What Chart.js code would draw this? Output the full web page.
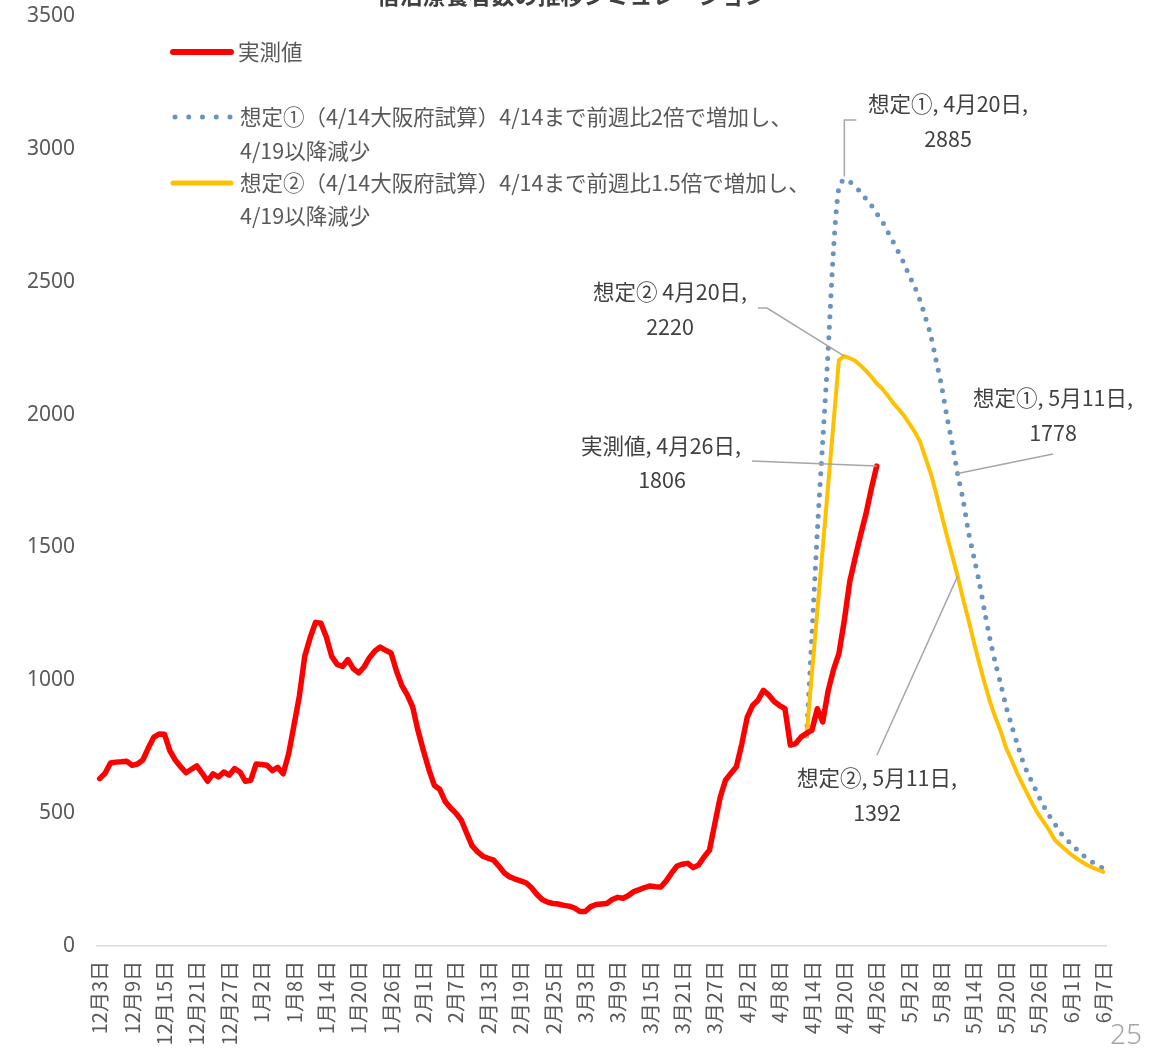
<!DOCTYPE html>
<html>
<head>
<meta charset="utf-8">
<script src="https://cdn.jsdelivr.net/npm/chart.js@4/dist/chart.umd.min.js"></script>
<style>
  html, body { margin: 0; padding: 0; background: #ffffff; }
  canvas { display: block; }
</style>
</head>
<body>
<canvas id="c" width="1164" height="1056"></canvas>
<script>
// ---------------- DATA ----------------
const startDate = { month: 12, day: 3 };   // 2020-12-03
const dayCount = 187;                       // through 2021-06-07
const monthLengths = { 12: 31, 1: 31, 2: 28, 3: 31, 4: 30, 5: 31, 6: 30 };

// daily categories "M月D日"
const categories = [];
(function () {
  let m = startDate.month, d = startDate.day;
  for (let i = 0; i < dayCount; i++) {
    categories.push(m + '月' + d + '日');
    d++;
    if (d > monthLengths[m]) { d = 1; m = m === 12 ? 1 : m + 1; }
  }
})();
const tickEvery = 6;

// 実測値 (12/3 – 4/26)
const actual = [
  630,650,689,692,693,695,680,685,700,745,
  785,798,797,735,700,675,652,665,678,650,
  620,648,636,655,643,668,655,620,624,685,
  683,680,660,672,648,722,830,940,1090,1160,
  1218,1215,1163,1090,1060,1052,1078,1044,1028,1050,
  1085,1110,1125,1113,1103,1035,980,945,900,810,
  735,665,605,590,545,520,500,474,425,378,
  355,338,330,323,300,275,260,252,245,238,
  220,195,175,165,160,158,153,150,143,130,
  130,148,156,158,160,175,183,180,190,205,
  212,220,226,223,222,245,275,301,308,311,
  295,305,335,360,460,560,625,650,675,760,
  860,905,925,962,945,920,905,893,756,762,
  787,800,812,893,843,960,1040,1100,1225,1370,
  1460,1545,1625,1720,1806
];

// 想定① values from 4/13 (index 131) to 6/7
const scenario1Start = 131;
const scenario1Values = [
  790,1170,1560,1900,2240,2620,2855,2885,
  2876,2858,2838,2812,2788,2757,2728,2690,2652,2613,
  2572,2525,2483,2431,2368,2300,2205,2110,1995,1890,
  1778,1680,1560,1465,1370,1260,1155,1065,985,900,
  830,765,700,650,608,565,525,490,460,428,
  405,385,365,345,330,315,302,292
];

// 想定② values from 4/13 (index 131) to 6/7 (null = no value, line spans the gap)
const scenario2Start = 131;
const scenario2Values = [
  790,null,null,null,null,null,2205,2220,
  2212,2203,2185,2165,2143,2117,2098,2073,2045,2022,
  1998,1968,1937,1900,1840,1780,1705,1625,1545,1468,
  1392,1308,1228,1145,1065,990,920,860,808,745,
  700,652,610,570,530,495,465,435,400,380,
  362,345,330,317,305,295,287,279
];

const yTicks = { min: 0, max: 3500, step: 500 };

const seriesNames = {
  actual: '実測値',
  s1: ['想定①（4/14大阪府試算）4/14まで前週比2倍で増加し、', '4/19以降減少'],
  s2: ['想定②（4/14大阪府試算）4/14まで前週比1.5倍で増加し、', '4/19以降減少']
};

// callouts: which series / which day, and the caption
const callouts = [
  { series: 's1', day: '4月20日', caption: '想定①, 4月20日,' },
  { series: 's2', day: '4月20日', caption: '想定② 4月20日,' },
  { series: 'actual', day: '4月26日', caption: '実測値, 4月26日,' },
  { series: 's1', day: '5月11日', caption: '想定①, 5月11日,' },
  { series: 's2', day: '5月11日', caption: '想定②, 5月11日,' }
];

const titleText = '宿泊療養者数の推移シミュレーション';
const pageNumber = '25';

// ---------------- build full-length series ----------------
function place(start, vals) {
  const out = new Array(dayCount).fill(null);
  vals.forEach((v, k) => { out[start + k] = v; });
  return out;
}
const actualFull = place(0, actual);
const s1Full = place(scenario1Start, scenario1Values);
const s2Full = place(scenario2Start, scenario2Values);
const seriesData = { actual: actualFull, s1: s1Full, s2: s2Full };

// ---------------- STYLE ----------------
const C_RED = '#FF0000', C_YEL = '#FFC000', C_BLUE = '#6B93C2';
const TXT = '#595959', TXT_DARK = '#404040', LEADER = '#A6A6A6';
const JP = '"Noto Sans CJK JP", "Noto Sans", sans-serif';

const overlayPlugin = {
  id: 'overlay',
  afterDraw(chart) {
    const { ctx, scales: { x, y } } = chart;
    ctx.save();

    // title (cut off at top in reference)
    ctx.font = 'bold 23px ' + JP;
    ctx.fillStyle = TXT_DARK;
    ctx.textAlign = 'center';
    ctx.textBaseline = 'alphabetic';
    ctx.fillText(titleText, 572, 4);

    // legend
    ctx.lineCap = 'round';
    ctx.strokeStyle = C_RED; ctx.lineWidth = 6;
    ctx.beginPath(); ctx.moveTo(173, 52); ctx.lineTo(231, 52); ctx.stroke();
    ctx.strokeStyle = C_BLUE; ctx.lineWidth = 5; ctx.setLineDash([0, 13.75]);
    ctx.beginPath(); ctx.moveTo(175, 117); ctx.lineTo(231, 117); ctx.stroke();
    ctx.setLineDash([]);
    ctx.strokeStyle = C_YEL; ctx.lineWidth = 5;
    ctx.beginPath(); ctx.moveTo(173, 183); ctx.lineTo(231, 183); ctx.stroke();

    ctx.font = '21.5px ' + JP;
    ctx.fillStyle = TXT;
    ctx.textAlign = 'left';
    ctx.textBaseline = 'middle';
    ctx.fillText(seriesNames.actual, 238, 52);
    ctx.fillText(seriesNames.s1[0], 240, 117);
    ctx.fillText(seriesNames.s1[1], 240, 151);
    ctx.fillText(seriesNames.s2[0], 240, 183);
    ctx.fillText(seriesNames.s2[1], 240, 216);

    // callouts
    const lay = [
      { t: [948, 104, 948, 139], path: (ax, ay) => [[ax, ay - 3], [ax, 120], [ax + 12, 120]] },
      { t: [670, 292, 670, 327], path: (ax, ay) => [[ax, ay], [767, 308], [758, 308]] },
      { t: [661, 446, 662, 480], path: (ax, ay) => [[ax, ay], [752, 461]] },
      { t: [1053, 398, 1053, 433], path: (ax, ay) => [[ax, ay], [1053, 454]] },
      { t: [877, 778, 877, 813], path: (ax, ay) => [[ax, ay], [877, 755]] }
    ];
    callouts.forEach((c, k) => {
      const idx = categories.indexOf(c.day);
      const val = seriesData[c.series][idx];
      const ax = x.getPixelForValue(idx);
      const ay = y.getPixelForValue(val);
      const L = lay[k];
      ctx.strokeStyle = LEADER; ctx.lineWidth = 1.5; ctx.lineCap = 'butt';
      ctx.beginPath();
      L.path(ax, ay).forEach((p, j) => j ? ctx.lineTo(p[0], p[1]) : ctx.moveTo(p[0], p[1]));
      ctx.stroke();
      ctx.font = '21.5px ' + JP;
      ctx.fillStyle = TXT_DARK;
      ctx.textAlign = 'center';
      ctx.textBaseline = 'middle';
      ctx.fillText(c.caption, L.t[0], L.t[1]);
      ctx.fillText(String(val), L.t[2], L.t[3]);
    });

    // page number
    ctx.font = '300 28px "Noto Sans", sans-serif';
    ctx.fillStyle = '#A6A6A6';
    ctx.textAlign = 'right';
    ctx.textBaseline = 'middle';
    ctx.fillText(pageNumber, 1142, 1036);

    ctx.restore();
  }
};

new Chart(document.getElementById('c'), {
  type: 'line',
  data: {
    labels: categories,
    datasets: [
      { label: seriesNames.actual, data: actualFull, borderColor: C_RED, borderWidth: 5.5,
        pointRadius: 0, tension: 0, borderJoinStyle: 'round', borderCapStyle: 'round', order: 0 },
      { label: seriesNames.s2.join(''), data: s2Full, borderColor: C_YEL, borderWidth: 4,
        pointRadius: 0, tension: 0, spanGaps: true, borderJoinStyle: 'round', borderCapStyle: 'round', order: 1 },
      { label: seriesNames.s1.join(''), data: s1Full, borderColor: C_BLUE, borderWidth: 5,
        pointRadius: 0, tension: 0.3, borderDash: [0, 10.5], borderCapStyle: 'round', order: 2 }
    ]
  },
  options: {
    responsive: false,
    animation: false,
    devicePixelRatio: 1,
    layout: { padding: { top: 16, right: 58, left: 0, bottom: 0 } },
    plugins: { legend: { display: false }, tooltip: { enabled: false } },
    scales: {
      x: {
        offset: true,
        grid: { display: false, drawTicks: false },
        border: { display: true, color: '#D9D9D9', width: 1.5 },
        ticks: {
          autoSkip: false, maxRotation: 90, minRotation: 90, padding: 15,
          color: TXT, font: { family: JP, size: 20 },
          callback: function (value, index) {
            return index % tickEvery === 0 ? this.getLabelForValue(value) : null;
          }
        },
        afterFit: (s) => { s.height = 110; s.paddingLeft = 0; s.paddingRight = 0; }
      },
      y: {
        min: yTicks.min, max: yTicks.max,
        grid: { display: false, drawTicks: false },
        border: { display: false },
        ticks: {
          stepSize: yTicks.step, padding: 22, color: TXT,
          font: { family: '"Noto Sans", sans-serif', size: 21 },
          callback: (v) => String(v)
        },
        afterFit: (s) => { s.width = 97; s.paddingTop = 0; s.paddingBottom = 0; }
      }
    }
  },
  plugins: [overlayPlugin]
});
</script>
</body>
</html>
